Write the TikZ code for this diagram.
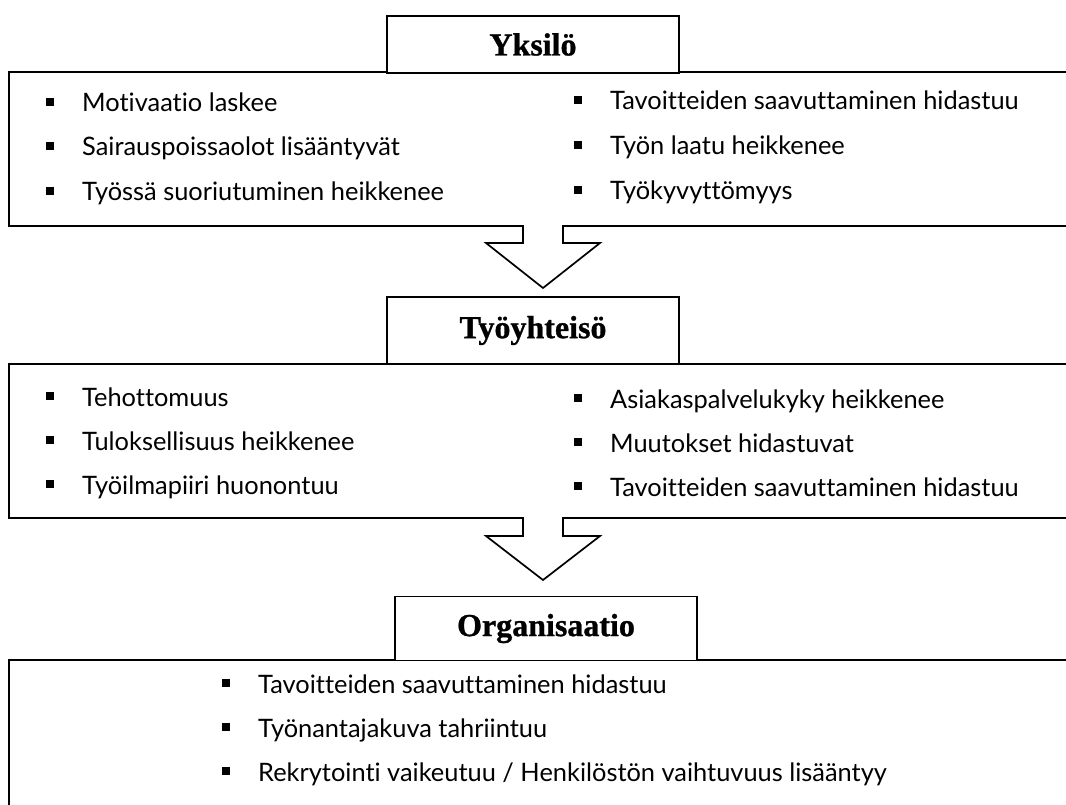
\documentclass[tikz,border=0pt]{standalone}
\usepackage{fontspec}
\setmainfont{Lato}[Ligatures={NoCommon}]
\newfontfamily\titlefont{Liberation Serif}[BoldFeatures={FakeBold=0.9}]
\begin{document}
\begin{tikzpicture}[x=1pt,y=-1pt,
  outline/.style={draw=black,line width=1.7pt,line join=miter,fill=white},
  titlebox/.style={draw=black,line width=1.7pt,fill=white,inner sep=0pt,font=\titlefont\bfseries\fontsize{32}{36}\selectfont},
  item/.style={anchor=base west,inner sep=0pt,font=\fontsize{25.4}{30}\selectfont},
  bul/.style={fill=black,minimum size=7.2pt,inner sep=0pt}]
\useasboundingbox (0,0) rectangle (1066,805);
\clip (0,0) rectangle (1066,805);
% callout box 1
\draw[outline] (1080,72) -- (9,72) -- (9,226) -- (523,226) -- (523,243) -- (486,243)
  -- (543,288) -- (600,243) -- (563,243) -- (563,226) -- (1080,226);
% callout box 2
\draw[outline] (1080,364) -- (9,364) -- (9,518) -- (523,518) -- (523,536) -- (486,536)
  -- (543,580) -- (600,536) -- (563,536) -- (563,518) -- (1080,518);
% box 3
\draw[outline] (1080,660) -- (9,660) -- (9,820);
% titles
\node[titlebox,minimum width=292pt,minimum height=57pt] (t1) at (533,44.5) {Yksilö};
\node[titlebox,minimum width=292pt,minimum height=67pt] (t2) at (533,330.5) {Työyhteisö};
\node[titlebox,minimum width=302pt,minimum height=64pt] (t3) at (546,628.5) {Organisaatio};
% items
\newcommand\bitem[4]{%
  \node[bul] (#1b) at (#2-32,#3-10) {};
  \node[item] (#1) at (#2,#3) {#4};}
\bitem{a1}{82}{112}{Motivaatio laskee}
\bitem{a2}{82}{156}{Sairauspoissaolot lisääntyvät}
\bitem{a3}{82}{201}{Työssä suoriutuminen heikkenee}
\bitem{a4}{610}{110}{Tavoitteiden saavuttaminen hidastuu}
\bitem{a5}{610}{155}{Työn laatu heikkenee}
\bitem{a6}{610}{200}{Työkyvyttömyys}
\bitem{b1}{82}{406}{Tehottomuus}
\bitem{b2}{82}{450}{Tuloksellisuus heikkenee}
\bitem{b3}{82}{494}{Työilmapiiri huonontuu}
\bitem{b4}{610}{408}{Asiakaspalvelukyky heikkenee}
\bitem{b5}{610}{452}{Muutokset hidastuvat}
\bitem{b6}{610}{496}{Tavoitteiden saavuttaminen hidastuu}
\bitem{c1}{258}{693}{Tavoitteiden saavuttaminen hidastuu}
\bitem{c2}{258}{737}{Työnantajakuva tahriintuu}
\bitem{c3}{258}{781}{Rekrytointi vaikeutuu / Henkilöstön vaihtuvuus lisääntyy}
\end{tikzpicture}
\end{document}
